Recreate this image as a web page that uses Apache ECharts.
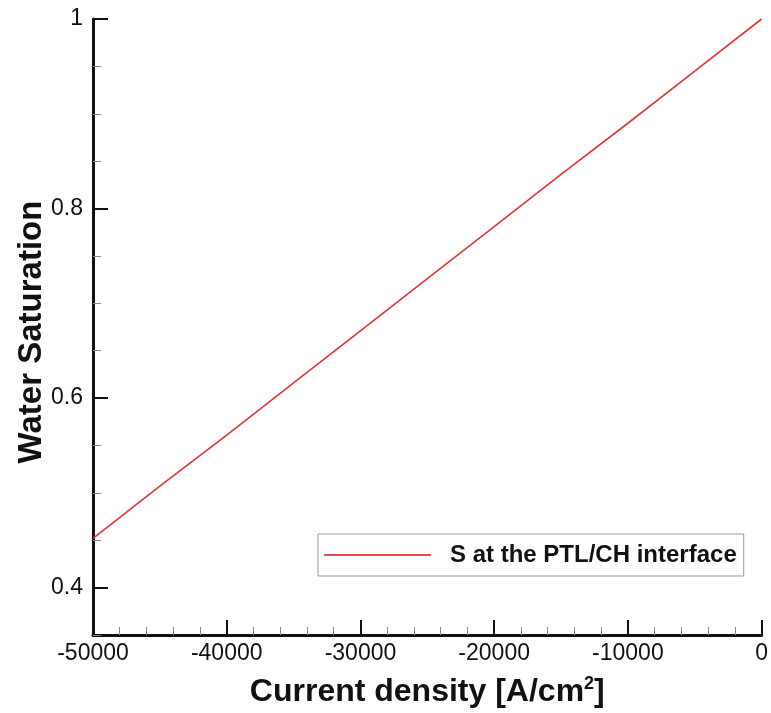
<!DOCTYPE html>
<html>
<head>
<meta charset="utf-8">
<script src="https://cdn.jsdelivr.net/npm/echarts@6/dist/echarts.min.js"></script>
<style>
html,body{margin:0;padding:0;background:#fff;}
#chart{width:771px;height:713px;}
</style>
</head>
<body>
<div id="chart"></div>
<script>
const currentDensity = [-50000, -45000, -40000, -35000, -30000, -25000, -20000, -15000, -10000, -5000, 0];
const saturation = [0.452, 0.507, 0.561, 0.616, 0.671, 0.726, 0.781, 0.836, 0.890, 0.945, 1.0];
const yMajorTicks = [0.4, 0.6, 0.8, 1];
const yMinorTicks = [0.35, 0.45, 0.5, 0.55, 0.65, 0.7, 0.75, 0.85, 0.9, 0.95];
const seriesName = 'S at the PTL/CH interface';
const xTitle = 'Current density [A/cm{sup|2}]';
const yTitle = 'Water Saturation';

const FONT = 'Liberation Sans, Arial, Helvetica, sans-serif';
const chart = echarts.init(document.getElementById('chart'));
chart.setOption({
  animation: false,
  backgroundColor: '#fff',
  grid: { left: 93, right: 4, top: 19, bottom: 78 },
  legend: {
    left: 318, top: 534,
    padding: [9, 7, 9, 6],
    borderColor: '#999', borderWidth: 1,
    itemWidth: 107, itemHeight: 14,
    textStyle: { fontFamily: FONT, fontSize: 24, fontWeight: 'bold', color: '#111', lineHeight: 24, padding: [0, 0, 0, 14] },
    data: [{ name: seriesName, icon: 'path://M0,0 L100,0 L100,2 L0,2 Z', itemStyle: { color: '#e05050' } }]
  },
  xAxis: {
    type: 'value', min: -50000, max: 0, interval: 10000,
    name: xTitle, nameLocation: 'middle', nameGap: 40,
    nameTextStyle: { fontFamily: FONT, fontSize: 32, fontWeight: 'bold', color: '#111',
      rich: { sup: { fontFamily: FONT, fontSize: 18, fontWeight: 'bold', color: '#111', padding: [0, 0, 16, 0] } } },
    axisLine: { show: true, onZero: false, lineStyle: { color: '#111', width: 3 } },
    axisTick: { show: true, inside: true, length: 15, lineStyle: { color: '#111', width: 2 } },
    minorTick: { show: true, splitNumber: 5, length: 8, lineStyle: { color: '#888', width: 1 } },
    axisLabel: { margin: 7, fontFamily: FONT, fontSize: 23, color: '#111', formatter: v => String(v) },
    splitLine: { show: false }
  },
  yAxis: {
    type: 'value', min: 0.35, max: 1, interval: 0.05,
    name: yTitle, nameLocation: 'middle', nameGap: 45, nameMoveOverlap: false,
    nameTextStyle: { fontFamily: FONT, fontSize: 33, fontWeight: 'bold', color: '#111', padding: [0, 10, 0, 0] },
    axisLine: { show: true, onZero: false, lineStyle: { color: '#111', width: 3 } },
    axisTick: { show: true, inside: true, length: 15, customValues: yMajorTicks, lineStyle: { color: '#111', width: 2 } },
    axisLabel: { margin: 10, fontFamily: FONT, fontSize: 23, color: '#111', customValues: yMajorTicks, formatter: v => String(v) },
    splitLine: { show: false }
  },
  series: [
    {
      name: seriesName, type: 'line',
      data: currentDensity.map((x, i) => [x, saturation[i]]),
      showSymbol: false, symbol: 'none',
      lineStyle: { color: '#e03535', width: 1.6 },
      itemStyle: { color: '#e03535' },
      markLine: {
        silent: true, symbol: 'none', label: { show: false },
        lineStyle: { color: '#888', width: 1, type: 'solid' },
        data: yMinorTicks.map(v => [{ coord: [-50000, v] }, { coord: [-50000 + 8 * 50000 / 674, v] }])
      }
    }
  ]
});
</script>
</body>
</html>
